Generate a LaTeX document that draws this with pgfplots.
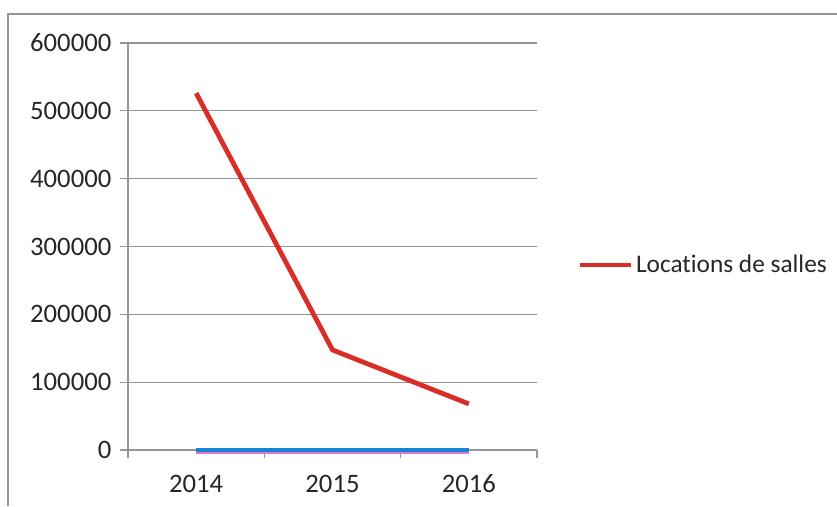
\documentclass[border=0pt]{standalone}
\usepackage{pgfplots}
\pgfplotsset{compat=1.18}
\usepackage{fontspec}
\setmainfont{Carlito}[RawFeature=-liga]
\definecolor{gridgray}{RGB}{150,150,150}
\definecolor{redline}{RGB}{218,45,40}
\definecolor{blueline}{RGB}{25,130,215}
\definecolor{pinkline}{RGB}{225,120,200}
\begin{document}
\begin{tikzpicture}[x=0.75pt,y=0.75pt]
\useasboundingbox (0,0) rectangle (837,506);
\draw[gridgray,line width=1.1pt] (8,0) -- (8,492) -- (837,492);
\begin{axis}[
  at={(96pt,42pt)}, anchor=south west,
  scale only axis, width=306.75pt, height=305.25pt,
  xmin=0, xmax=3, ymin=0, ymax=600000,
  xtick={0,1,2,3}, xticklabels={},
  extra x ticks={0.5,1.5,2.5}, extra x tick labels={2014,2015,2016},
  extra x tick style={major tick length=0pt, grid=none,
     xticklabel style={yshift=-15pt}},
  ytick={0,100000,...,600000},
  scaled y ticks=false,
  /pgf/number format/assume math mode=true,
  yticklabel={\pgfmathprintnumber[fixed,1000 sep={}]{\tick}},
  ymajorgrids,
  grid style={gridgray,line width=0.9pt},
  axis x line*=bottom, axis y line*=left,
  axis line style={gridgray,line width=0.9pt,-},
  y axis line style={-}, x axis line style={-},
  tick style={gridgray,line width=0.9pt},
  tick align=outside, major tick length=6pt,
  tick label style={font=\fontsize{20}{23}\selectfont, text=black!85},
  yticklabel style={xshift=-3pt},
  legend style={at={(1.098,0.4545)}, anchor=west, draw=none, fill=none,
    font=\fontsize{19}{22}\selectfont, text=black!85, inner sep=0pt},
  legend cell align=left,
  legend image code/.code={\draw[#1] (0cm,0cm) -- (1.35cm,0cm);},
  clip=false,
]
\addplot[pinkline, line width=3pt, forget plot, yshift=-1.2pt] coordinates {(0.5,0) (1.5,0) (2.5,0)};
\addplot[blueline, line width=3.6pt, forget plot] coordinates {(0.5,0) (1.5,0) (2.5,0)};
\addplot[redline, line width=3.6pt] coordinates {(0.5,526000) (1.5,147500) (2.5,68000)};
\addlegendentry{Locations de salles}
\end{axis}
\end{tikzpicture}
\end{document}
